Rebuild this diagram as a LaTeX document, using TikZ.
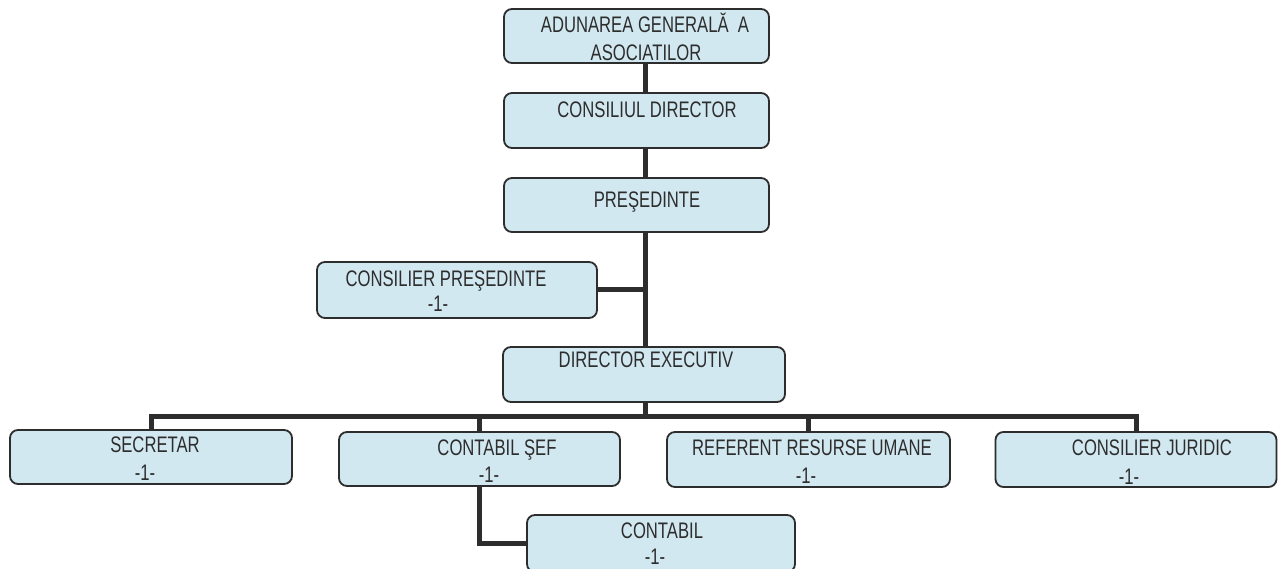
\documentclass[tikz,border=0pt]{standalone}
\usepackage{fontspec}
\setmainfont{Liberation Sans}[FakeStretch=0.74]
\definecolor{boxfill}{RGB}{210,232,241}
\definecolor{ink}{RGB}{45,45,45}
\begin{document}
\begin{tikzpicture}[x=1pt,y=-1pt,
  orgbox/.style={draw=ink,line width=1.8pt,fill=boxfill,rounded corners=8pt,
    rectangle,inner sep=0pt},
  lbl/.style={anchor=base,inner sep=0pt,text=ink,font=\fontsize{22.5}{25}\selectfont},
  conn/.style={draw=ink,line width=5pt}]
\useasboundingbox (0,0) rectangle (1278,569);
\clip (0,0) rectangle (1278,569);
\fill[white] (0,0) rectangle (1278,569);
% boxes
\node[orgbox,minimum width=265pt,minimum height=54pt] (A)  at (636.5,36) {};
\node[orgbox,minimum width=265pt,minimum height=55pt] (CD) at (636.5,120.5) {};
\node[orgbox,minimum width=265pt,minimum height=54pt] (P)  at (636.5,205) {};
\node[orgbox,minimum width=280pt,minimum height=56pt] (CP) at (457,290) {};
\node[orgbox,minimum width=282pt,minimum height=55pt] (DE) at (644,374.5) {};
\node[orgbox,minimum width=282pt,minimum height=54pt] (S)  at (151,457) {};
\node[orgbox,minimum width=281pt,minimum height=54pt] (CS) at (479.5,459) {};
\node[orgbox,minimum width=283pt,minimum height=55pt] (RRU) at (808.5,459.5) {};
\node[orgbox,minimum width=281pt,minimum height=55pt] (CJ) at (1136,459.5) {};
\node[orgbox,minimum width=268pt,minimum height=57pt] (C)  at (661,543.5) {};
% trunk and bus
\coordinate (t) at (645,0);
\coordinate (bus) at (0,417);
\draw[conn] (t |- A.south) -- (t |- CD.north);
\draw[conn] (t |- CD.south) -- (t |- P.north);
\draw[conn] (t |- P.south) -- (t |- DE.north);
\draw[conn] (CP.east) -- (CP.east -| t);
\draw[conn] (t |- DE.south) -- (t |- bus);
\draw[conn] (S.north) -- (S.north |- bus) -- (CJ.north |- bus) -- (CJ.north);
\draw[conn] (CS.north |- bus) -- (CS.north);
\draw[conn] (RRU.north |- bus) -- (RRU.north);
\draw[conn] (CS.south) |- (C.west);
% labels
\node[lbl] (tA1) at (645,33) {ADUNAREA GENERALĂ\ \ A};
\node[lbl] (tA2) at (646,61) {ASOCIATILOR};
\node[lbl] (tCD) at (647,118) {CONSILIUL DIRECTOR};
\node[lbl] (tP) at (647,208) {PREŞEDINTE};
\node[lbl] (tCP1) at (446,287) {CONSILIER PREŞEDINTE};
\node[lbl] (tCP2) at (438,312) {-1-};
\node[lbl] (tDE) at (646,368) {DIRECTOR EXECUTIV};
\node[lbl] (tS1) at (155,453) {SECRETAR};
\node[lbl] (tS2) at (145,480) {-1-};
\node[lbl] (tCS1) at (497,455) {CONTABIL ŞEF};
\node[lbl] (tCS2) at (489,482) {-1-};
\node[lbl] (tR1) at (812,455) {REFERENT RESURSE UMANE};
\node[lbl] (tR2) at (806,483) {-1-};
\node[lbl] (tJ1) at (1152,455) {CONSILIER JURIDIC};
\node[lbl] (tJ2) at (1129,484) {-1-};
\node[lbl] (tC1) at (662,538) {CONTABIL};
\node[lbl] (tC2) at (655,564) {-1-};
\end{tikzpicture}
\end{document}
